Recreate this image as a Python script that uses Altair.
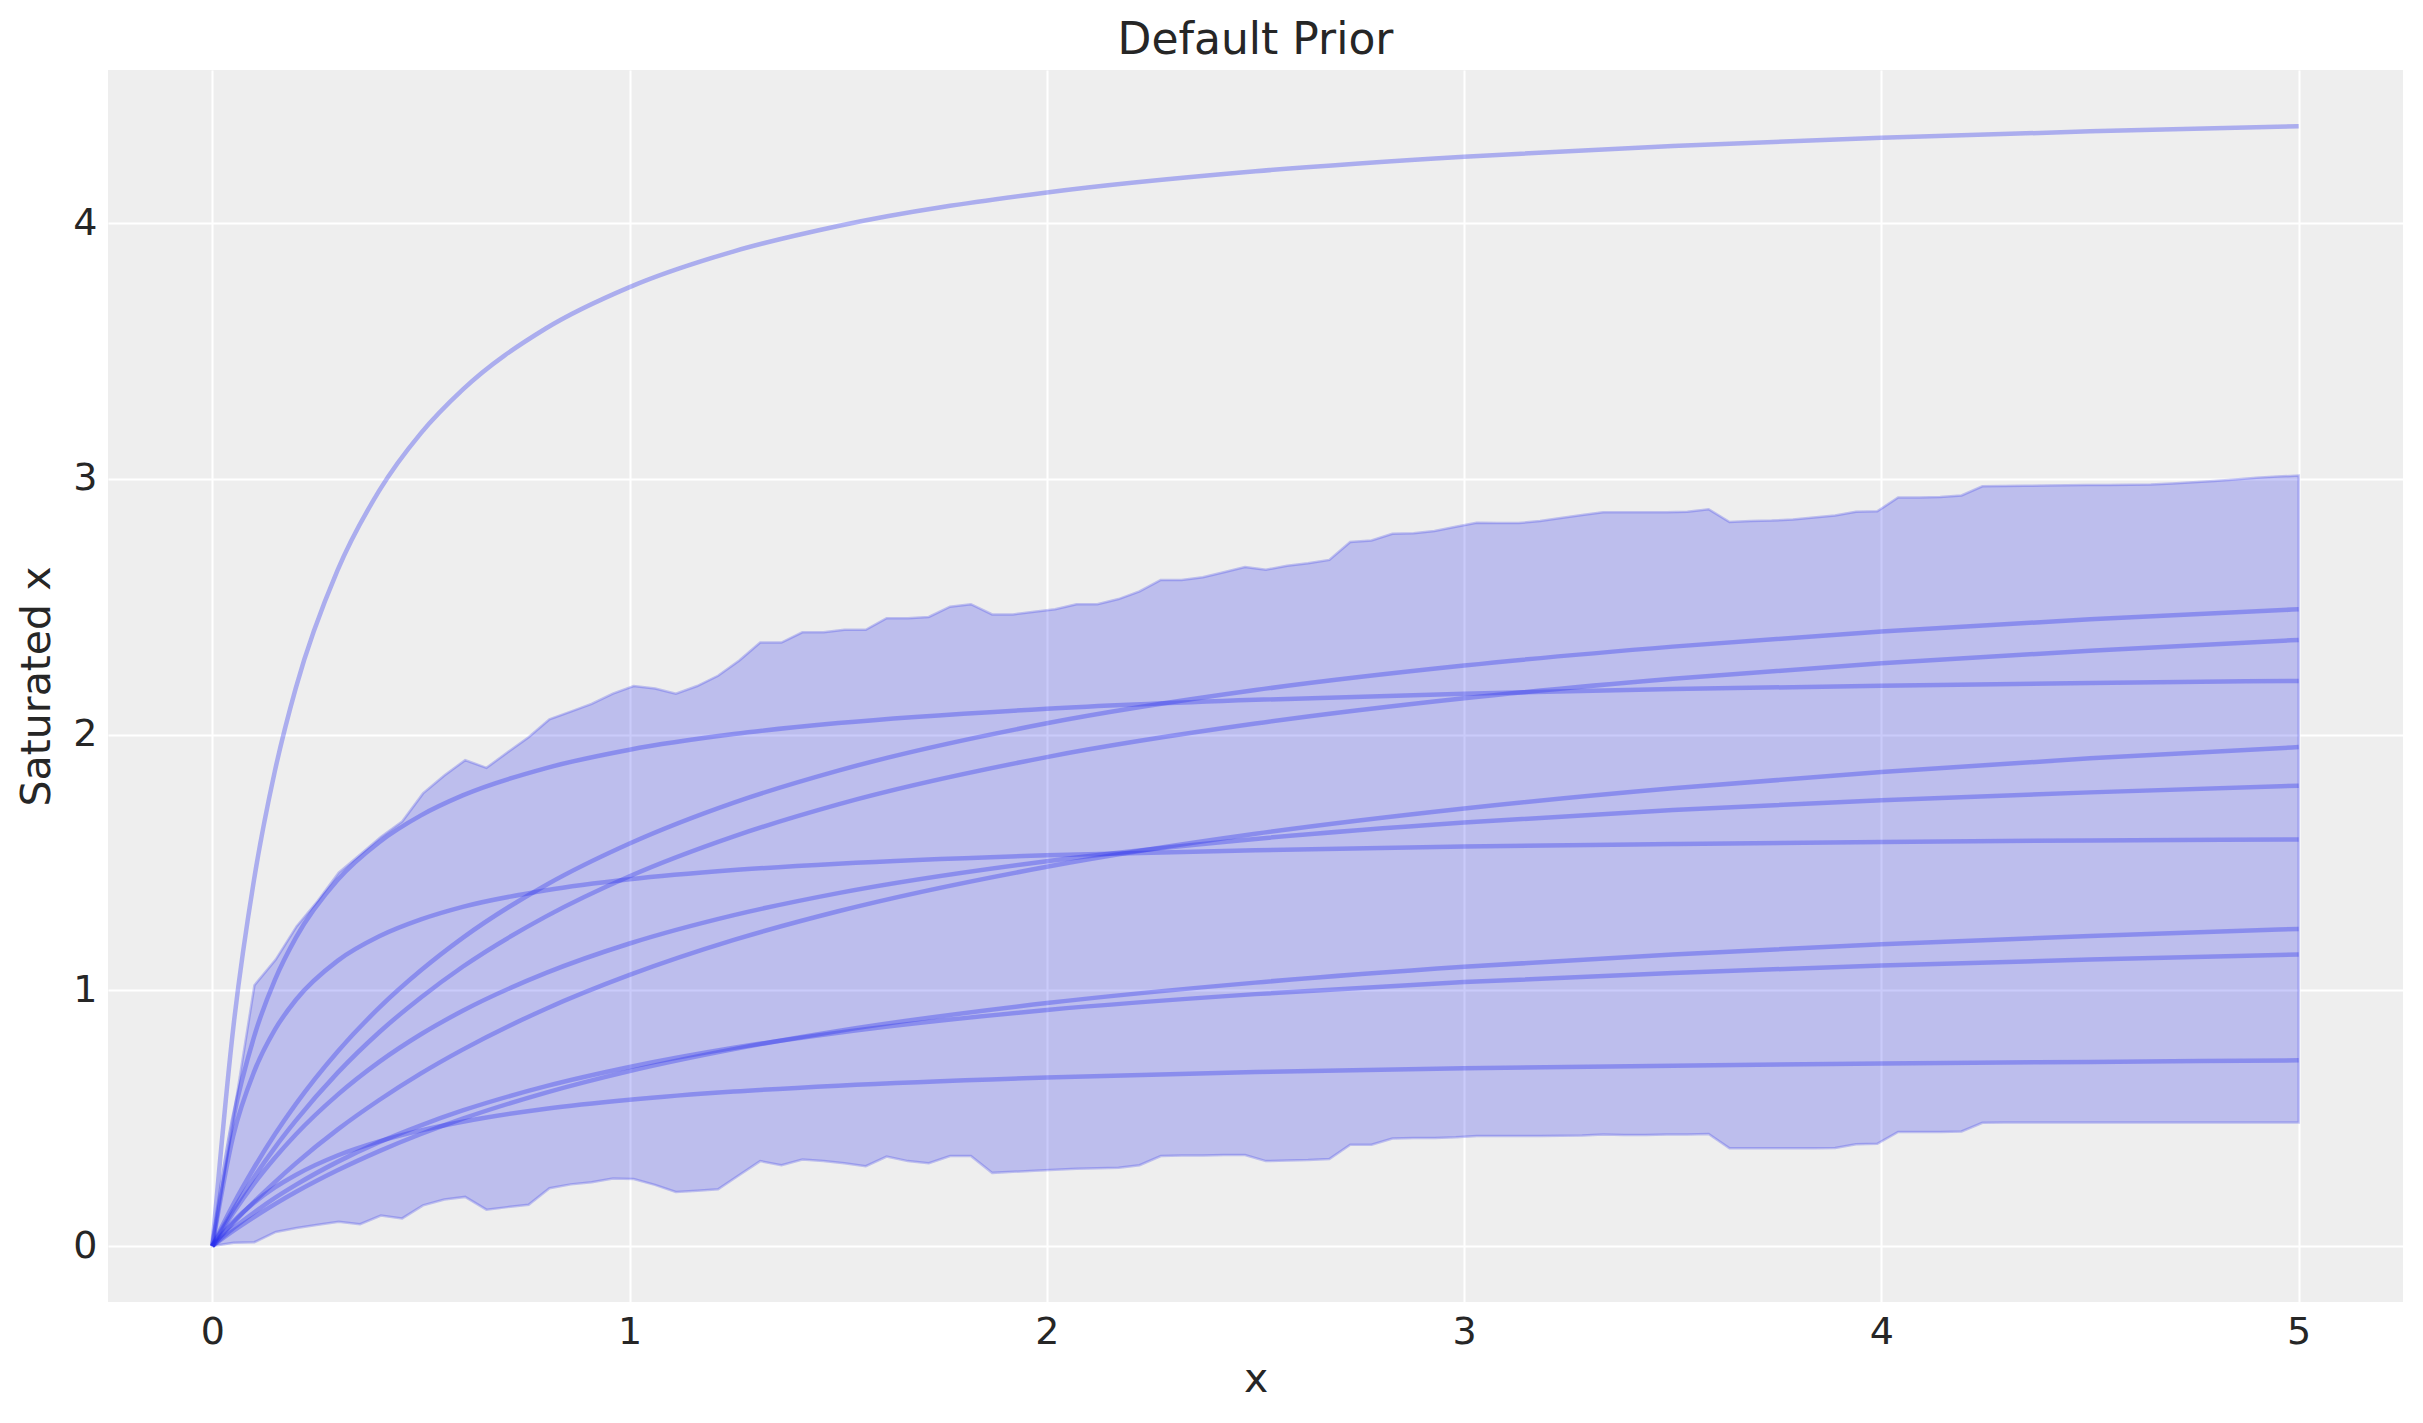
import altair as alt
import pandas as pd

x_curve = [0.0, 0.05, 0.1, 0.15, 0.2, 0.3, 0.4, 0.5, 0.6, 0.8, 1.0, 1.25, 1.5,
           2.0, 2.5, 3.0, 3.5, 4.0, 4.5, 5.0]

curve_1 = [0.0, 0.850, 1.433, 1.858, 2.182, 2.642, 2.954, 3.179, 3.349, 3.589, 3.750,
           3.890, 3.989, 4.120, 4.203, 4.260, 4.302, 4.334, 4.359, 4.379]
curve_2 = [0.0, 0.162, 0.306, 0.437, 0.555, 0.760, 0.932, 1.078, 1.205, 1.412, 1.574,
           1.734, 1.859, 2.044, 2.174, 2.270, 2.344, 2.403, 2.451, 2.490]
curve_3 = [0.0, 0.141, 0.269, 0.385, 0.490, 0.677, 0.836, 0.972, 1.092, 1.289, 1.446,
           1.602, 1.727, 1.912, 2.043, 2.142, 2.218, 2.279, 2.328, 2.370]
curve_4 = [0.0, 0.498, 0.818, 1.041, 1.205, 1.431, 1.579, 1.684, 1.762, 1.869, 1.941,
           2.002, 2.045, 2.101, 2.136, 2.160, 2.178, 2.191, 2.202, 2.210]
curve_5 = [0.0, 0.090, 0.173, 0.250, 0.323, 0.455, 0.571, 0.675, 0.768, 0.928, 1.060,
           1.197, 1.309, 1.483, 1.612, 1.711, 1.790, 1.854, 1.907, 1.951]
curve_6 = [0.0, 0.129, 0.244, 0.345, 0.436, 0.591, 0.720, 0.828, 0.920, 1.068, 1.183,
           1.294, 1.380, 1.505, 1.592, 1.656, 1.705, 1.743, 1.774, 1.800]
curve_7 = [0.0, 0.430, 0.681, 0.846, 0.962, 1.115, 1.211, 1.277, 1.326, 1.391, 1.434,
           1.470, 1.495, 1.528, 1.548, 1.562, 1.572, 1.580, 1.586, 1.590]
curve_8 = [0.0, 0.059, 0.113, 0.164, 0.211, 0.296, 0.371, 0.438, 0.498, 0.600, 0.684,
           0.770, 0.841, 0.950, 1.030, 1.092, 1.140, 1.180, 1.212, 1.240]
curve_9 = [0.0, 0.069, 0.131, 0.188, 0.239, 0.329, 0.406, 0.472, 0.530, 0.625, 0.700,
           0.775, 0.834, 0.923, 0.985, 1.032, 1.068, 1.097, 1.120, 1.140]
curve_10 = [0.0, 0.095, 0.169, 0.229, 0.278, 0.354, 0.409, 0.452, 0.486, 0.537, 0.572,
            0.604, 0.627, 0.659, 0.680, 0.695, 0.705, 0.714, 0.720, 0.726]

curves = [curve_1, curve_2, curve_3, curve_4, curve_5, curve_6, curve_7,
          curve_8, curve_9, curve_10]

# ---- HDI band ----
x_band = [0.000, 0.051, 0.101, 0.152, 0.202, 0.253, 0.303, 0.354, 0.404, 0.455,
          0.505, 0.556, 0.606, 0.657, 0.707, 0.758, 0.808, 0.859, 0.909, 0.960,
          1.010, 1.061, 1.111, 1.162, 1.212, 1.263, 1.313, 1.364, 1.414, 1.465,
          1.515, 1.566, 1.616, 1.667, 1.717, 1.768, 1.818, 1.869, 1.919, 1.970,
          2.020, 2.071, 2.121, 2.172, 2.222, 2.273, 2.323, 2.374, 2.424, 2.475,
          2.525, 2.576, 2.626, 2.677, 2.727, 2.778, 2.828, 2.879, 2.929, 2.980,
          3.030, 3.081, 3.131, 3.182, 3.232, 3.283, 3.333, 3.384, 3.434, 3.485,
          3.535, 3.586, 3.636, 3.687, 3.737, 3.788, 3.838, 3.889, 3.939, 3.990,
          4.040, 4.091, 4.141, 4.192, 4.242, 4.293, 4.343, 4.394, 4.444, 4.495,
          4.545, 4.596, 4.646, 4.697, 4.747, 4.798, 4.848, 4.899, 4.949, 5.000]

band_upper = [0.0, 0.51, 1.02, 1.12, 1.25, 1.35, 1.46, 1.53, 1.60, 1.66,
              1.77, 1.84, 1.90, 1.87, 1.93, 1.99, 2.06, 2.09, 2.12, 2.16,
              2.19, 2.18, 2.16, 2.19, 2.23, 2.29, 2.36, 2.36, 2.40, 2.40,
              2.41, 2.41, 2.455, 2.455, 2.46, 2.50, 2.51, 2.47, 2.47, 2.48,
              2.49, 2.51, 2.51, 2.53, 2.56, 2.605, 2.605, 2.615, 2.635, 2.655,
              2.645, 2.66, 2.67, 2.683, 2.753, 2.759, 2.785, 2.787, 2.796, 2.813,
              2.828, 2.827, 2.827, 2.835, 2.847, 2.859, 2.869, 2.869, 2.869, 2.869,
              2.871, 2.881, 2.831, 2.835, 2.837, 2.841, 2.849, 2.857, 2.871, 2.873,
              2.927, 2.927, 2.929, 2.935, 2.971, 2.972, 2.973, 2.974, 2.975, 2.976,
              2.976, 2.977, 2.978, 2.982, 2.987, 2.992, 2.998, 3.004, 3.009, 3.013]

band_lower = [0.0, 0.013, 0.015, 0.055, 0.070, 0.083, 0.095, 0.085, 0.119, 0.108,
              0.159, 0.182, 0.192, 0.142, 0.152, 0.161, 0.226, 0.241, 0.249, 0.264,
              0.262, 0.239, 0.211, 0.216, 0.222, 0.278, 0.332, 0.316, 0.338, 0.332,
              0.324, 0.312, 0.350, 0.332, 0.324, 0.352, 0.352, 0.286, 0.290, 0.294,
              0.298, 0.302, 0.304, 0.306, 0.316, 0.352, 0.354, 0.354, 0.356, 0.356,
              0.332, 0.334, 0.336, 0.340, 0.396, 0.396, 0.420, 0.422, 0.422, 0.425,
              0.430, 0.430, 0.430, 0.430, 0.431, 0.432, 0.436, 0.434, 0.434, 0.436,
              0.436, 0.438, 0.382, 0.382, 0.382, 0.382, 0.382, 0.383, 0.398, 0.400,
              0.446, 0.446, 0.446, 0.448, 0.482, 0.483, 0.483, 0.483, 0.483, 0.483,
              0.483, 0.483, 0.483, 0.483, 0.483, 0.483, 0.483, 0.483, 0.483, 0.483]

x_ticks = [0, 1, 2, 3, 4, 5]
y_ticks = [0, 1, 2, 3, 4]

BLUE = "#2a2eec"
FONT = "DejaVu Sans"
TEXT = "#262626"

rows = []
for i, c in enumerate(curves):
    for xv, yv in zip(x_curve, c):
        rows.append({"x": xv, "y": yv, "sample": i})
lines_df = pd.DataFrame(rows)
band_df = pd.DataFrame({"x": x_band, "lo": band_lower, "hi": band_upper})

xscale = alt.Scale(domain=[-0.25, 5.25], nice=False, zero=False)
yscale = alt.Scale(domain=[-0.219, 4.599], nice=False, zero=False)

xaxis = alt.Axis(values=x_ticks, title="x", format="d")
yaxis = alt.Axis(values=y_ticks, title="Saturated x", format="d")

band = alt.Chart(band_df).mark_area(
    color=BLUE, fillOpacity=0.25, stroke=BLUE, strokeOpacity=0.25, strokeWidth=2.5
).encode(
    x=alt.X("x:Q", scale=xscale, axis=xaxis),
    y=alt.Y("lo:Q", scale=yscale, axis=yaxis),
    y2="hi:Q",
)

lines = alt.Chart(lines_df).mark_line(
    color=BLUE, opacity=0.34, strokeWidth=4.5, interpolate="monotone"
).encode(
    x=alt.X("x:Q", scale=xscale),
    y=alt.Y("y:Q", scale=yscale),
    detail="sample:N",
)

chart = alt.layer(band, lines).properties(
    width=2295,
    height=1232,
    title=alt.TitleParams("Default Prior", fontSize=44, font=FONT, fontWeight="normal",
                          color=TEXT, anchor="middle", frame="group",
                          baseline="alphabetic", offset=14, dy=42),
    autosize=alt.AutoSizeParams(type="none"),
    padding={"left": 100, "top": 62, "right": 12, "bottom": 110},
).configure_view(
    fill="#eeeeee", stroke=None
).configure_axis(
    grid=True, gridColor="#ffffff", gridWidth=2, domain=False, ticks=False,
    labelFont=FONT, labelFontSize=38, labelColor=TEXT, labelPadding=11,
    titleFont=FONT, titleFontSize=41, titleFontWeight="normal", titleColor=TEXT,
).configure_axisX(
    titlePadding=8
).configure_axisY(
    titlePadding=14
)

chart.save("out.html", embed_options={"renderer": "svg", "actions": False})
